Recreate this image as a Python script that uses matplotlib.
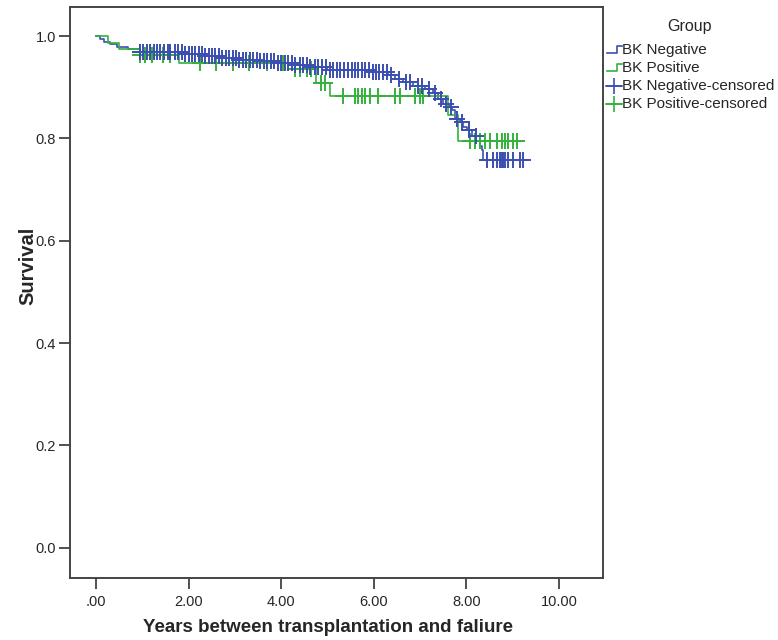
import numpy as np
import matplotlib
matplotlib.use("Agg")
import matplotlib.pyplot as plt
from matplotlib.lines import Line2D

plt.rcParams['font.family'] = ['Liberation Sans', 'DejaVu Sans']

# ---- data ----
blue_t = [0, 0.08, 0.18, 0.3, 0.45, 0.7, 0.95, 1.9, 2.3, 2.7, 3.1, 3.5, 3.9, 4.3, 4.6, 5.0,
          5.95, 6.3, 6.46, 6.63, 6.85, 7.11, 7.28, 7.39, 7.49, 7.62, 7.69, 7.75, 7.86, 7.93,
          8.01, 8.12, 8.29, 8.34, 8.36]
blue_s = [1.0, 0.994, 0.989, 0.984, 0.979, 0.974, 0.970, 0.966, 0.962, 0.958, 0.954, 0.951,
          0.948, 0.944, 0.940, 0.934, 0.929, 0.924, 0.917, 0.911, 0.903, 0.896, 0.888, 0.878,
          0.868, 0.862, 0.855, 0.839, 0.833, 0.823, 0.816, 0.804, 0.786, 0.777, 0.757]
blue_end = 9.25
blue_cens = [0.95, 1.02, 1.1, 1.17, 1.25, 1.31, 1.38, 1.47, 1.55, 1.61, 1.7, 1.78, 1.85, 1.93,
             2.01, 2.08, 2.14, 2.22, 2.28, 2.36, 2.44, 2.5, 2.57, 2.66, 2.73, 2.8, 2.88, 2.95,
             3.02, 3.1, 3.18, 3.24, 3.32, 3.4, 3.47, 3.55, 3.62, 3.7, 3.78, 3.85, 3.93, 4.0,
             4.08, 4.15, 4.23, 4.3, 4.4, 4.48, 4.55, 4.63, 4.72, 4.8, 4.88, 4.97, 5.05, 5.12,
             5.2, 5.28, 5.35, 5.44, 5.52, 5.6, 5.67, 5.75, 5.82, 5.9, 5.98, 6.05, 6.12, 6.2,
             6.28, 6.38, 6.55, 6.7, 6.78, 6.95, 7.05, 7.2, 7.33, 7.45, 7.55, 7.66, 7.8, 7.9,
             8.05, 8.2, 8.44, 8.57, 8.66, 8.73, 8.77, 8.79, 8.83, 8.9, 9.0, 9.16, 9.23]

green_t = [0, 0.26, 0.5, 0.95, 1.8, 4.15, 4.75, 5.05, 7.6, 7.82]
green_s = [1.0, 0.986, 0.975, 0.964, 0.948, 0.935, 0.909, 0.884, 0.845, 0.796]
green_end = 9.1
green_cens = [0.95, 1.05, 1.2, 1.45, 1.6, 2.25, 2.6, 2.95, 3.3, 3.7, 4.05, 4.3, 4.4, 4.55,
              4.65, 4.85, 4.95, 5.33, 5.59, 5.66, 5.75, 5.81, 5.92, 6.09, 6.46, 6.57, 6.89,
              7.0, 7.06, 8.08, 8.19, 8.29, 8.40, 8.51, 8.66, 8.77, 8.83, 8.90, 9.0, 9.1]

labels = ["BK Negative", "BK Positive", "BK Negative-censored", "BK Positive-censored"]
xticks = [0, 2, 4, 6, 8, 10]
xticklabels = [".00", "2.00", "4.00", "6.00", "8.00", "10.00"]
yticks = [0.0, 0.2, 0.4, 0.6, 0.8, 1.0]
yticklabels = ["0.0", "0.2", "0.4", "0.6", "0.8", "1.0"]

BLUE = '#3b4fb0'
GREEN = '#33b13a'
TXT = '#262626'


def surv_at(ts, ss, t):
    idx = np.searchsorted(np.asarray(ts), t, side='right') - 1
    return np.asarray(ss)[idx]


W, H = 778, 640
fig = plt.figure(figsize=(W / 100, H / 100), dpi=100)
ax = fig.add_axes([70 / W, 1 - 578 / H, (603 - 70) / W, (578 - 7) / H])

for ts, ss, end, col in [(blue_t, blue_s, blue_end, BLUE),
                         (green_t, green_s, green_end, GREEN)]:
    xs = list(ts) + [end]
    ys = list(ss) + [ss[-1]]
    ax.step(xs, ys, where='post', color=col, lw=1.2, zorder=3)

for ts, ss, cens, col in [(green_t, green_s, green_cens, GREEN),
                          (blue_t, blue_s, blue_cens, BLUE)]:
    cy = surv_at(ts, ss, np.asarray(cens))
    ax.plot(cens, cy, linestyle='none', marker='+', ms=11, mew=1.4, color=col, zorder=4)

ax.set_xlim(-0.56, 10.95)
ax.set_ylim(-0.059, 1.057)
ax.set_xticks(xticks)
ax.set_xticklabels(xticklabels)
ax.set_yticks(yticks)
ax.set_yticklabels(yticklabels)
ax.tick_params(axis='both', direction='out', length=8, width=1.2, color='#333333',
               labelsize=10.5, labelcolor=TXT)
ax.tick_params(axis='x', pad=4)
ax.tick_params(axis='y', pad=2)
for sp in ax.spines.values():
    sp.set_color('#444444')
    sp.set_linewidth(1.4)

ax.set_xlabel("Years between transplantation and faliure", fontsize=13.5,
              fontweight='bold', color=TXT)
ax.xaxis.set_label_coords((328 - 70) / 533, -(628 - 578) / 571)
ax.set_ylabel("Survival", fontsize=14.5, fontweight='bold', color=TXT)
ax.yaxis.set_label_coords((28 - 70) / 533, (578 - 266) / 571)
ax.xaxis.label.set_va('center')
ax.yaxis.label.set_va('center')

# ---- legend (drawn in figure pixel coordinates) ----
def fx(px):
    return px / W


def fy(py):
    return 1 - py / H


fig.text(fx(690), fy(27), "Group", fontsize=11.5, color=TXT, ha='center', va='center')
colors = [BLUE, GREEN, BLUE, GREEN]
ys_leg = [50, 68, 86, 104]
for i, (lab, col, yy) in enumerate(zip(labels, colors, ys_leg)):
    if i < 2:
        xs = [607, 617, 617, 622]
        yv = [yy + 3, yy + 3, yy - 4, yy - 4]
        fig.add_artist(Line2D([fx(v) for v in xs], [fy(v) for v in yv], color=col, lw=1.2,
                              transform=fig.transFigure))
    else:
        fig.add_artist(Line2D([fx(606), fx(622)], [fy(yy), fy(yy)], color=col, lw=1.2,
                              transform=fig.transFigure))
        fig.add_artist(Line2D([fx(614)], [fy(yy)], color=col, marker='+', ms=11, mew=1.2,
                              linestyle='none', transform=fig.transFigure))
    fig.text(fx(622), fy(yy), lab, fontsize=11, color=TXT, ha='left', va='center')

fig.savefig("out.png", dpi=100)
